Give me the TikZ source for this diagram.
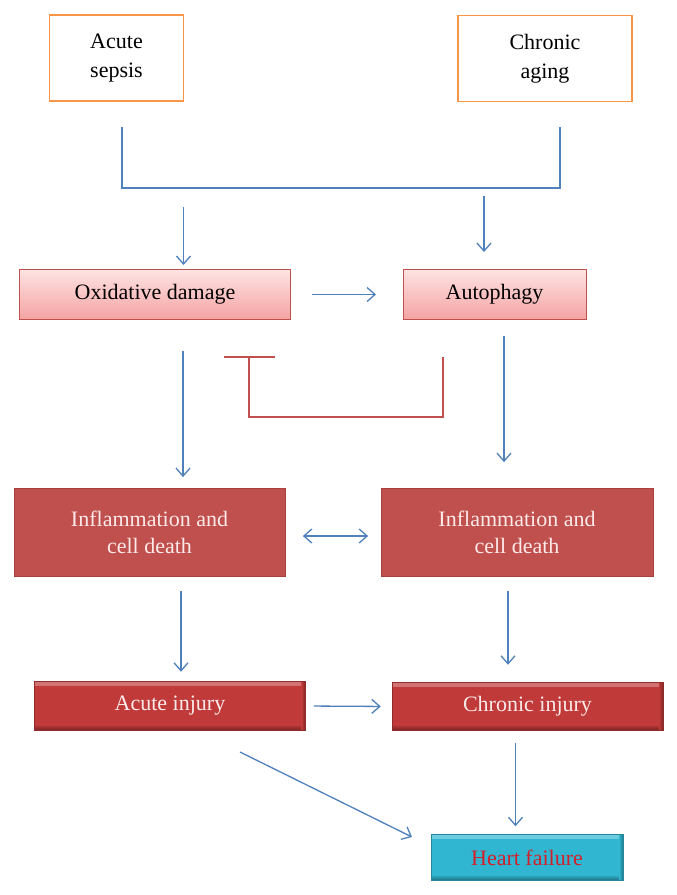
\documentclass[tikz,border=0pt]{standalone}
\usepackage{fontspec}
\setmainfont{Liberation Serif}
\usetikzlibrary{arrows.meta}
\definecolor{ablue}{HTML}{4F81BD}
\definecolor{aorange}{HTML}{F79646}
\definecolor{ared}{HTML}{C0504D}
\definecolor{oxtop}{HTML}{FFE3E3}
\definecolor{oxbot}{HTML}{F4A3A3}
\definecolor{oxline}{HTML}{C0504D}
\definecolor{inflfill}{HTML}{C0504D}
\definecolor{inflline}{HTML}{A8403E}
\definecolor{injfill}{HTML}{C03A3A}
\definecolor{hffill}{HTML}{31B6D2}
\definecolor{hftext}{HTML}{D0202A}
\definecolor{paletext}{HTML}{FCEAEA}
\tikzset{
  txt/.style={font=\fontsize{22}{29}\selectfont, align=center, inner sep=0pt},
  srcbox/.style={txt, draw=aorange, line width=1.5pt, fill=white},
  pinkbox/.style={txt, draw=oxline, line width=1pt, top color=oxtop, bottom color=oxbot},
  inflbox/.style={txt, font=\fontsize{22}{27}\selectfont, draw=inflline, line width=0.8pt, fill=inflfill, text=paletext},
  bevelbox/.style={txt, fill=#1, draw=#1!75!black, line width=0.5pt,
    path picture={
      \fill[top color=#1!70!white, bottom color=#1] (path picture bounding box.north west) rectangle ([yshift=-4pt]path picture bounding box.north east);
      \fill[top color=#1, bottom color=#1!60!black] ([yshift=6pt]path picture bounding box.south west) rectangle (path picture bounding box.south east);
      \fill[left color=#1, right color=#1!65!black] ([xshift=-4pt]path picture bounding box.north east) rectangle (path picture bounding box.south east);
    }},
  arr/.style={draw=ablue, line width=1.3pt, -{Straight Barb[length=8pt,width=14pt,line width=1.3pt]}},
  darr/.style={draw=ablue, line width=1.3pt, {Straight Barb[length=8pt,width=14pt,line width=1.3pt]}-{Straight Barb[length=8pt,width=14pt,line width=1.3pt]}},
  bline/.style={draw=ablue, line width=1.3pt},
  inh/.style={draw=ared, line width=1.3pt},
}
\begin{document}
\begin{tikzpicture}[x=1pt, y=-1pt]
\useasboundingbox (0,0) rectangle (677,895);
\fill[white] (0,0) rectangle (677,895);

% nodes
\node[srcbox, minimum width=134pt, minimum height=86pt] (sepsis) at (116.5,58) {Acute\\sepsis};
\node[srcbox, minimum width=174pt, minimum height=86pt] (aging) at (545,58.5) {Chronic\\aging};
\node[pinkbox, minimum width=271pt, minimum height=50pt] (ox) at (155,294.5) {Oxidative damage};
\node[pinkbox, minimum width=183pt, minimum height=50pt] (auto) at (494.5,294.5) {Autophagy};
\node[inflbox, minimum width=271pt, minimum height=88pt] (infl1) at (149.5,532.5) {Inflammation and\\cell death};
\node[inflbox, minimum width=272pt, minimum height=88pt] (infl2) at (517,532.5) {Inflammation and\\cell death};
\node[bevelbox=injfill, text=paletext, minimum width=271pt, minimum height=49pt] (acute) at (170,706) {Acute injury};
\node[bevelbox=injfill, text=paletext, minimum width=271pt, minimum height=48pt] (chronic) at (527.5,706.5) {Chronic injury};
\node[bevelbox=hffill, text=hftext, minimum width=192pt, minimum height=46pt] (heart) at (527,857.5) {Heart failure};

% bracket joining the two sources
\coordinate (bl) at (122,127);
\coordinate (br) at (560,127);
\coordinate (bj) at (122,188);
\draw[bline] (bl) -- (bj) -| (br);

% arrows into oxidative damage / autophagy
\coordinate (a1) at (183.5,207);
\draw[arr, shorten >=4pt] (a1) -- (a1 |- ox.north);
\coordinate (a2) at (484,196);
\draw[arr, shorten >=17pt] (a2) -- (a2 |- auto.north);

\draw[arr, shorten <=20.5pt, shorten >=26.5pt] (ox) -- (auto);

% down arrows to inflammation
\coordinate (a3) at (183,351);
\draw[arr, shorten >=11pt] (a3) -- (a3 |- infl1.north);
\coordinate (a4) at (504,336);
\draw[arr, shorten >=26pt] (a4) -- (a4 |- infl2.north);

% inhibition
\coordinate (i1) at (443,357);
\coordinate (i2) at (249,357);
\draw[inh] (i1) -- ++(0,60) -| (i2);
\draw[inh] ([xshift=-25pt]i2) -- ([xshift=26pt]i2);

% double arrow between inflammation boxes
\draw[darr, shorten <=17.5pt, shorten >=12.5pt] ([yshift=-3.5pt]infl1.east) -- ([yshift=-3.5pt]infl2.west);

% down arrows to injuries
\coordinate (a5) at (181,591);
\draw[arr, shorten >=9.5pt] (a5) -- (a5 |- acute.north);
\coordinate (a6) at (508,591);
\draw[arr, shorten >=17.5pt] (a6) -- (a6 |- chronic.north);

\draw[arr, shorten <=8pt, shorten >=11pt] (acute.east) -- (chronic.west);

% to heart failure
\coordinate (d1) at (240,752);
\coordinate (d2) at (412,837);
\draw[arr] (d1) -- (d2);
\coordinate (a7) at (515.5,743);
\draw[arr, shorten >=8pt] (a7) -- (a7 |- heart.north);
\end{tikzpicture}
\end{document}
